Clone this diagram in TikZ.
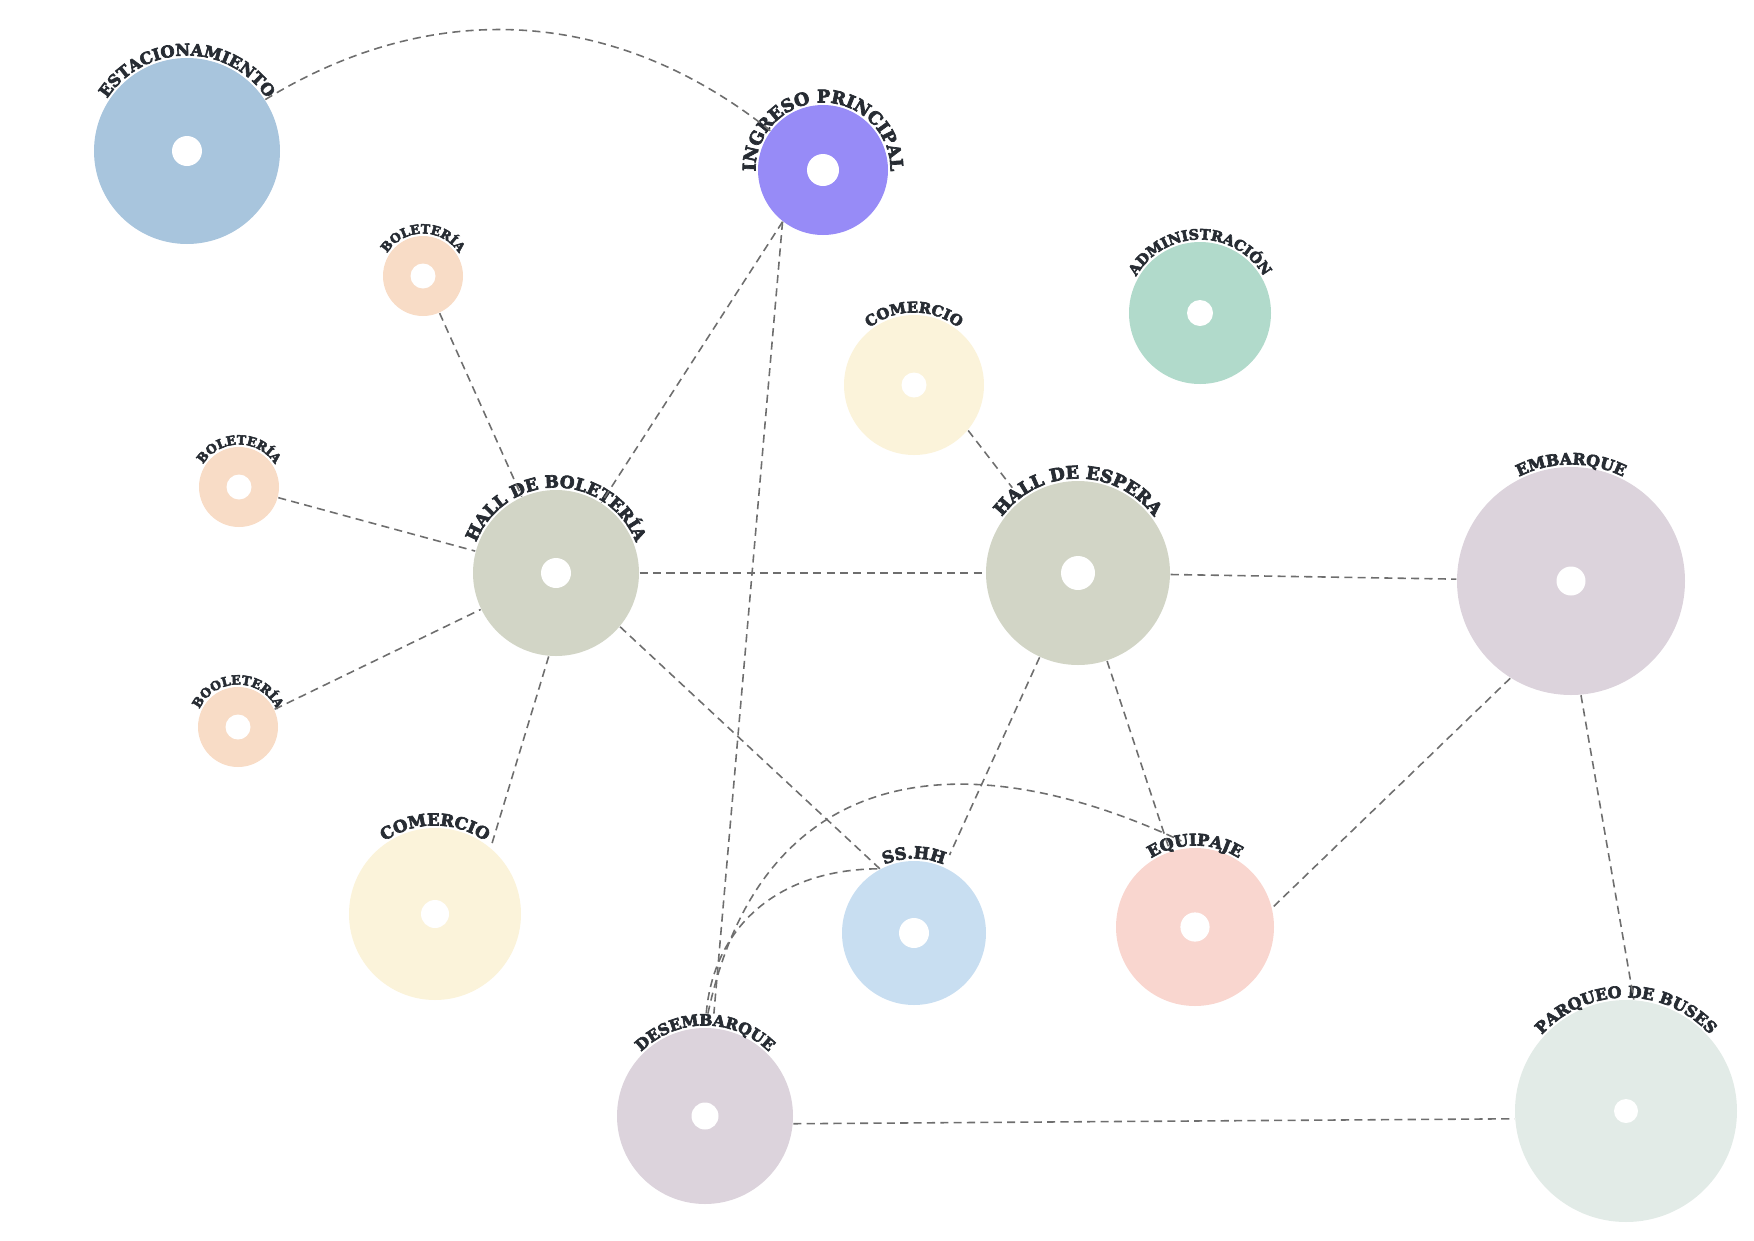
\documentclass[tikz,border=0pt]{standalone}
\usepackage{fontspec}
\usepackage{xcolor}
\usepackage{tikz}
\usetikzlibrary{positioning,decorations.text}

\newfontfamily\lblfont{DejaVu Serif Bold}[FakeBold=4]
\definecolor{txt}{HTML}{272C33}
\definecolor{linec}{HTML}{6E6E6E}
\definecolor{cEstac}{HTML}{A8C5DD}
\definecolor{cIngreso}{HTML}{978BF7}
\definecolor{cBol}{HTML}{F8DCC6}
\definecolor{cCom}{HTML}{FBF3DA}
\definecolor{cAdmin}{HTML}{B1DACB}
\definecolor{cHall}{HTML}{D2D5C6}
\definecolor{cEmb}{HTML}{DCD3DC}
\definecolor{cSshh}{HTML}{C8DEF1}
\definecolor{cEquip}{HTML}{F9D6CF}
\definecolor{cParq}{HTML}{E2EBE7}
\newcommand{\lblset}[1]{\lblfont\fontsize{#1}{#1}\selectfont\color{txt}}

\begin{document}
\begin{tikzpicture}[
  zone/.style={circle, inner sep=0pt, minimum size=#1},
  link/.style={draw=linec, line width=0.45pt, dash pattern=on 2.3pt off 1.5pt},
]
\useasboundingbox (0,0) rectangle (17.54,-12.41);
% zonas
\node[zone=1.86cm, fill=cEstac] (estac) at (1.87,-1.51) {};
\node[zone=1.30cm, fill=cIngreso] (ingreso) at (8.23,-1.70) {};
\node[zone=0.80cm, fill=cBol] (bol1) at (4.23,-2.76) {};
\node[zone=0.80cm, fill=cBol] (bol2) at (2.39,-4.87) {};
\node[zone=0.80cm, fill=cBol] (bol3) at (2.38,-7.27) {};
\node[zone=1.40cm, fill=cCom] (com1) at (9.14,-3.85) {};
\node[zone=1.42cm, fill=cAdmin] (admin) at (12.00,-3.13) {};
\node[zone=1.66cm, fill=cHall] (hallb) at (5.56,-5.73) {};
\node[zone=1.84cm, fill=cHall] (halle) at (10.78,-5.73) {};
\node[zone=2.28cm, fill=cEmb] (embarque) at (15.71,-5.81) {};
\node[zone=1.72cm, fill=cCom] (com2) at (4.35,-9.14) {};
\node[zone=1.44cm, fill=cSshh] (sshh) at (9.14,-9.33) {};
\node[zone=1.58cm, fill=cEquip] (equip) at (11.95,-9.27) {};
\node[zone=1.76cm, fill=cEmb] (desem) at (7.05,-11.16) {};
\node[zone=2.22cm, fill=cParq] (parqueo) at (16.26,-11.11) {};
\foreach \n/\h in {estac/0.15, ingreso/0.16, bol1/0.125, bol2/0.125, bol3/0.125,
  com1/0.125, admin/0.13, hallb/0.15, halle/0.17, embarque/0.145, com2/0.14,
  sshh/0.15, equip/0.146, desem/0.135, parqueo/0.12}
  \fill[white] (\n.center) circle (\h);
% etiquetas
\foreach \n/\rr/\lab/\sz in {estac/0.955/ESTACIONAMIENTO/4.6, ingreso/0.675/INGRESO PRINCIPAL/5.0,
  bol1/0.425/BOLETERÍA/3.6, bol2/0.425/BOLETERÍA/3.6, bol3/0.425/BOOLETERÍA/3.6,
  com1/0.725/COMERCIO/4.2, admin/0.735/ADMINISTRACIÓN/4.1, hallb/0.855/HALL DE BOLETERÍA/4.8,
  halle/0.945/HALL DE ESPERA/5.0, embarque/1.165/EMBARQUE/4.5, com2/0.885/COMERCIO/4.7,
  sshh/0.745/SS.HH/4.7, equip/0.815/EQUIPAJE/4.6, desem/0.905/DESEMBARQUE/4.4,
  parqueo/1.135/PARQUEO DE BUSES/4.5}
  \path[decorate, decoration={text along path, text align=center,
      text/.expanded={|\noexpand\lblset{\sz}|\lab}}]
    ([shift={(180:\rr)}]\n.center) arc[start angle=180, end angle=0, radius=\rr];
% relaciones
\draw[link] (estac) to[bend left=35] (ingreso);
\draw[link] (ingreso.-128) -- (hallb);
\draw[link, shorten >=1.4mm] (ingreso.-128) -- (desem);
\draw[link] (bol1) -- (hallb);
\draw[link] (bol2) -- (hallb);
\draw[link] (bol3) -- (hallb);
\draw[link] (hallb.-95) -- (com2.50);
\draw[link] (hallb) -- (halle);
\draw[link] (hallb.-40) -- (sshh.118);
\draw[link, shorten >=1.5mm] (com1.-40) -- (halle);
\draw[link] (halle) -- (embarque);
\draw[link, shorten >=1.3mm] (halle) -- (sshh);
\draw[link] (halle) -- (equip);
\draw[link] (embarque.-122) -- (equip.14);
\draw[link] (embarque.-85) -- (parqueo.86);
\draw[link] (desem.-5) -- (parqueo.184);
\draw[link, shorten <=1.4mm, shorten >=1.5mm] (desem.north) to[out=78, in=155, looseness=1.3] (equip.north);
\draw[link, shorten <=1.4mm] (desem.north) to[out=85, in=180, looseness=1.1] (sshh.118);
\end{tikzpicture}
\end{document}
